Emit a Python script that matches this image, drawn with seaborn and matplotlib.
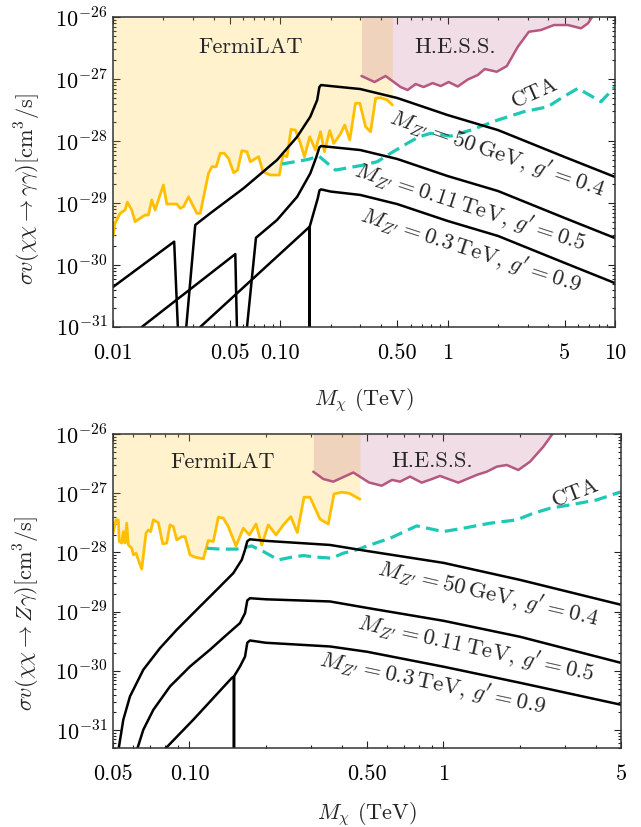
import numpy as np
import pandas as pd
import matplotlib
matplotlib.use("Agg")
import matplotlib.pyplot as plt
import matplotlib.ticker as mticker
import seaborn as sns

# ---------------- chi chi -> gamma gamma (top panel) ----------------
gg_fermi_m = [0.01, 0.01028, 0.01102, 0.0118, 0.01218, 0.01294, 0.01354, 0.0145, 0.01554, 0.01627,
              0.01704, 0.01784, 0.02, 0.02096, 0.02406, 0.0252, 0.02638, 0.02826, 0.0317, 0.0332,
              0.0372, 0.039, 0.0414, 0.0437, 0.0462, 0.049, 0.0526, 0.0555, 0.0589, 0.0631,
              0.0661, 0.0742, 0.0787, 0.0871, 0.0986, 0.1038, 0.1096, 0.1158, 0.123, 0.1318,
              0.1393, 0.1498, 0.162, 0.1737, 0.1834, 0.1973, 0.2085, 0.2265, 0.2427, 0.26,
              0.281, 0.2985, 0.323, 0.346, 0.371, 0.397, 0.435, 0.467]
gg_fermi_sv = [2.86e-30, 4.70e-30, 6.81e-30, 7.71e-30, 1.03e-29, 7.71e-30, 5.0e-30, 5.66e-30, 6.4e-30, 6.4e-30,
               1.12e-29, 7.71e-30, 1.95e-29, 9.64e-30, 9.64e-30, 8.2e-30, 8.73e-30, 1.26e-29, 6.81e-30, 6.81e-30,
               3.01e-29, 3.85e-29, 3.85e-29, 6.33e-29, 6.33e-29, 5.25e-29, 3.08e-29, 3.4e-29, 6.98e-29, 6.73e-29,
               4.64e-29, 5.58e-29, 3.2e-29, 2.83e-29, 2.83e-29, 5.95e-29, 5.58e-29, 1.54e-28, 1.5e-28, 9.17e-29,
               5.58e-29, 1.17e-28, 7.16e-29, 1.41e-28, 6.73e-29, 1.47e-28, 9.17e-29, 1.25e-28, 1.81e-28, 1.04e-28,
               4.06e-28, 4.06e-28, 1.7e-28, 1.41e-28, 4.89e-28, 5.0e-28, 4.59e-28, 3.81e-28]

gg_hess_m = [0.3055, 0.3655, 0.4253, 0.523, 0.576, 0.643, 0.718, 0.813, 0.908, 1.014, 1.148, 1.318,
             1.512, 1.665, 1.965, 2.256, 2.626, 3.055, 3.606, 4.313, 5.23, 6.26, 6.89, 7.38]
gg_hess_sv = [1.12e-27, 8.95e-28, 1.12e-27, 7.43e-28, 6.65e-28, 8.3e-28, 7.43e-28, 8.6e-28, 7.71e-28,
              8.95e-28, 7.57e-28, 9.82e-28, 1.16e-27, 1.45e-27, 1.31e-27, 1.62e-27, 3.32e-27, 5.79e-27,
              6.17e-27, 7.43e-27, 7.43e-27, 6.58e-27, 7.91e-27, 1.05e-26]

gg_cta_m = [0.1024, 0.1477, 0.1696, 0.2135, 0.3153, 0.3793, 0.4557, 0.5737, 0.673, 0.791, 1.042,
            1.373, 1.992, 2.85, 3.97, 4.75, 6.0, 8.25, 10.0]
gg_cta_sv = [4.26e-29, 5.07e-29, 5.73e-29, 3.4e-29, 4.1e-29, 4.64e-29, 6.34e-29, 9.18e-29, 1.17e-28,
             1.33e-28, 1.2e-28, 1.5e-28, 2.18e-28, 2.97e-28, 3.57e-28, 4.89e-28, 7.08e-28, 4.31e-28, 7.52e-28]

gg_mz50_m = [0.01, 0.0232, 0.0244, np.nan, 0.0274, 0.031, 0.0381, 0.0603, 0.0955, 0.126, 0.151,
             0.166, 0.171, 0.175, 0.2, 0.3, 0.5, 1, 2, 5, 10]
gg_mz50_sv = [4.42e-31, 2.38e-30, 1e-31, np.nan, 1e-31, 4.42e-30, 6.82e-30, 1.73e-29, 4.94e-29, 1.17e-28,
              2.47e-28, 4.58e-28, 7.4e-28, 8.0e-28, 7.7e-28, 6.9e-28, 4.94e-28, 2.62e-28, 1.50e-28,
              5.52e-29, 2.63e-29]

gg_mz110_m = [0.01485, 0.0538, 0.055, np.nan, 0.0632, 0.0715, 0.0955, 0.126, 0.151, 0.1643, 0.171,
              0.175, 0.2, 0.3, 0.5, 1, 2, 5, 10]
gg_mz110_sv = [1e-31, 1.5e-30, 1e-31, np.nan, 1e-31, 2.75e-30, 5.32e-30, 1.26e-29, 3.01e-29, 5.58e-29,
               7.9e-29, 8.3e-29, 8.0e-29, 7.16e-29, 5.13e-29, 2.72e-29, 1.56e-29, 5.73e-30, 2.72e-30]

gg_mz300_m = [0.0332, 0.1497, 0.1497, 0.1497, 0.1598, 0.1673, 0.1714, 0.175, 0.2, 0.3, 0.5, 1, 2, 5, 10]
gg_mz300_sv = [1e-31, 4.15e-30, 1e-31, 4.15e-30, 7.7e-30, 1.19e-29, 1.6e-29, 1.66e-29, 1.53e-29,
               1.35e-29, 9.6e-30, 5.13e-30, 2.94e-30, 1.08e-30, 5.1e-31]

# ---------------- chi chi -> Z gamma (bottom panel) ----------------
zg_fermi_m = [0.05, 0.05138, 0.05247, 0.05294, 0.05411, 0.05489, 0.05574, 0.05661, 0.05744, 0.05925,
              0.06011, 0.0616, 0.0629, 0.06486, 0.06745, 0.06887, 0.07038, 0.07207, 0.0754, 0.07848,
              0.08136, 0.08383, 0.08638, 0.08909, 0.09322, 0.09605, 0.1005, 0.1051, 0.1134, 0.1186,
              0.1241, 0.1299, 0.1359, 0.1422, 0.1525, 0.1629, 0.172, 0.1828, 0.1925, 0.2043, 0.2192,
              0.2342, 0.2504, 0.2658, 0.2825, 0.2983, 0.3266, 0.352, 0.3708, 0.3975, 0.4258, 0.4692]
zg_fermi_sv = [2.11e-28, 3.55e-28, 3.55e-28, 1.53e-28, 1.44e-28, 2.25e-28, 1.44e-28, 3.12e-28, 1.34e-28,
               1.18e-28, 9.12e-29, 9.73e-29, 7.5e-29, 5.23e-29, 2.11e-28, 2.4e-28, 2.25e-28, 3.55e-28,
               3.19e-28, 1.40e-28, 1.44e-28, 2.92e-28, 2.73e-28, 1.63e-28, 1.85e-28, 1.85e-28, 9.12e-29,
               8.34e-29, 7.8e-29, 1.59e-28, 1.53e-28, 3.94e-28, 3.79e-28, 2.73e-28, 1.29e-28, 2.57e-28,
               1.98e-28, 3.03e-28, 1.34e-28, 2.92e-28, 1.98e-28, 2.92e-28, 4.03e-28, 2.17e-28, 8.57e-28,
               8.57e-28, 3.65e-28, 3.03e-28, 9.73e-28, 1.04e-27, 1.0e-27, 7.92e-28]

zg_hess_m = [0.3073, 0.3365, 0.3683, 0.4417, 0.509, 0.5713, 0.6273, 0.6745, 0.7384, 0.8209, 0.9013,
             0.9692, 1.144, 1.352, 1.48, 1.621, 1.774, 1.971, 2.192, 2.472, 2.707]
zg_hess_sv = [2.31e-27, 1.74e-27, 1.57e-27, 2.24e-27, 1.52e-27, 1.34e-27, 1.68e-27, 1.57e-27, 1.91e-27,
              1.51e-27, 1.74e-27, 1.96e-27, 1.51e-27, 2.04e-27, 2.31e-27, 2.81e-27, 3.0e-27, 2.47e-27,
              3.41e-27, 6.1e-27, 1.05e-26]

zg_cta_m = [0.1169, 0.1319, 0.1535, 0.1758, 0.1953, 0.2238, 0.2527, 0.2806, 0.317, 0.3631, 0.4034,
            0.4554, 0.5138, 0.6161, 0.7846, 0.9986, 1.197, 1.525, 1.943, 2.259, 2.628, 3.149, 4.013, 5.0]
zg_cta_sv = [1.18e-28, 1.14e-28, 1.14e-28, 1.29e-28, 1.04e-28, 7.5e-29, 8.34e-29, 8.87e-29, 8.34e-29,
             8.02e-29, 9.73e-29, 1.11e-28, 1.34e-28, 1.74e-28, 2.81e-28, 2.25e-28, 2.57e-28, 3.12e-28,
             3.55e-28, 4.6e-28, 5.58e-28, 6.35e-28, 7.71e-28, 1.06e-27]

zg_mz50_m = [0.05247, 0.05489, 0.05832, 0.06582, 0.07656, 0.08909, 0.1068, 0.128, 0.1488, 0.1606,
             0.1655, 0.1689, 0.1731, 0.2, 0.3575, 0.5, 1, 2, 5]
zg_mz50_sv = [4.5e-32, 1.5e-31, 3.72e-31, 1.05e-30, 2.43e-30, 4.95e-30, 1.08e-29, 2.34e-29, 4.48e-29,
              7.5e-29, 1.11e-28, 1.55e-28, 1.67e-28, 1.57e-28, 1.34e-28, 1.06e-28, 6.68e-29, 3.45e-29, 1.31e-29]

zg_mz110_m = [0.06197, 0.06582, 0.07207, 0.08383, 0.1005, 0.1204, 0.1401, 0.1581, 0.1655, 0.1689,
              0.1731, 0.2, 0.3575, 0.5, 1, 2, 5]
zg_mz110_sv = [4.5e-32, 1.02e-31, 2.21e-31, 5.48e-31, 1.19e-30, 2.28e-30, 4.08e-30, 6.43e-30, 9.47e-30,
               1.55e-29, 1.69e-29, 1.62e-29, 1.49e-29, 1.16e-29, 7.03e-30, 3.78e-30, 1.37e-30]

zg_mz300_m = [0.07889, 0.1035, 0.1466, 0.1497, 0.1497, 0.1497, 0.1581, 0.1655, 0.1689, 0.1731, 0.2,
              0.3575, 0.5, 1, 2, 5]
zg_mz300_sv = [4.5e-32, 1.5e-31, 7.58e-31, 8.1e-31, 4.5e-32, 8.1e-31, 1.19e-30, 1.75e-30, 3.0e-30,
               3.27e-30, 2.99e-30, 2.59e-30, 2.11e-30, 1.18e-30, 6.32e-31, 2.69e-31]

# ticks
gg_ticks = [0.01, 0.05, 0.1, 0.5, 1, 5, 10]
gg_ticklabels = ["0.01", "0.05", "0.10", "0.50", "1", "5", "10"]
zg_ticks = [0.05, 0.1, 0.5, 1, 5]
zg_ticklabels = ["0.05", "0.10", "0.50", "1", "5"]

curve_labels = [r"$M_{Z^\prime}=50\,\mathrm{GeV},\, g^\prime=0.4$",
                r"$M_{Z^\prime}=0.11\,\mathrm{TeV},\, g^\prime=0.5$",
                r"$M_{Z^\prime}=0.3\,\mathrm{TeV},\, g^\prime=0.9$"]

FERMI = "#FFBF00"
HESS = "#B5577F"
CTA = "#1EC8B4"

sns.set_style("ticks")
plt.rcParams["font.family"] = "serif"
plt.rcParams["font.serif"] = ["cmr10", "DejaVu Serif"]
plt.rcParams["mathtext.fontset"] = "cm"
plt.rcParams["axes.unicode_minus"] = False
plt.rcParams["axes.formatter.use_mathtext"] = True


def draw_line(ax, m, sv, color, lw, ls="-"):
    df = pd.DataFrame({"m": m, "sv": sv})
    df["seg"] = df["sv"].isna().cumsum()
    df = df.dropna()
    sns.lineplot(data=df, x="m", y="sv", units="seg", estimator=None, sort=False,
                 color=color, lw=lw, linestyle=ls, ax=ax, legend=False)


def style_axes(ax, ticks, labels, xlim, ylim, ylabel, ylab_y, xlab_y):
    ax.set_xscale("log")
    ax.set_yscale("log")
    ax.set_xlim(*xlim)
    ax.set_ylim(*ylim)
    ax.xaxis.set_major_locator(mticker.FixedLocator(ticks))
    ax.xaxis.set_major_formatter(mticker.FixedFormatter(labels))
    ax.xaxis.set_minor_locator(mticker.LogLocator(base=10, subs=np.arange(2, 10), numticks=50))
    ax.xaxis.set_minor_formatter(mticker.NullFormatter())
    ax.yaxis.set_major_locator(mticker.LogLocator(base=10, numticks=20))
    ax.yaxis.set_major_formatter(mticker.FuncFormatter(lambda v, p: r"$10^{%d}$" % round(np.log10(v))))
    ax.yaxis.set_minor_locator(mticker.LogLocator(base=10, subs=np.arange(2, 10), numticks=50))
    ax.yaxis.set_minor_formatter(mticker.NullFormatter())
    ax.tick_params(which="both", direction="in", top=True, right=True, width=0.8, colors="#222222")
    ax.tick_params(which="major", length=5)
    ax.tick_params(which="minor", length=2.5)
    ax.tick_params(axis="x", which="major", pad=12, labelsize=16, labelcolor="black")
    ax.tick_params(axis="y", which="major", pad=4, labelsize=16, labelcolor="black")
    for s in ax.spines.values():
        s.set_linewidth(1.1)
        s.set_color("#333333")
    ax.set_xlabel(r"$M_\chi$ (TeV)", fontsize=16)
    ax.set_ylabel(ylabel, fontsize=16)
    ax.xaxis.set_label_coords(0.5, xlab_y)
    ax.yaxis.set_label_coords(-0.14, ylab_y)


def panel(ax, fermi_m, fermi_sv, hess_m, hess_sv, cta_m, cta_sv, curves):
    ax.fill_between(fermi_m, fermi_sv, 1e-25, color=FERMI, alpha=0.2, lw=0)
    ax.fill_between(hess_m, hess_sv, 1e-25, color=HESS, alpha=0.2, lw=0)
    draw_line(ax, fermi_m, fermi_sv, FERMI, 2.0)
    draw_line(ax, hess_m, hess_sv, HESS, 1.8)
    draw_line(ax, cta_m, cta_sv, CTA, 2.3, ls=(0, (4, 2)))
    for m, sv in curves:
        draw_line(ax, m, sv, "black", 1.8)


fig = plt.figure(figsize=(6.41, 8.27), dpi=100)
ax1 = fig.add_axes([0.1763, 0.6046, 0.7832, 0.3748])
ax2 = fig.add_axes([0.1763, 0.0955, 0.7925, 0.3797])

# top panel
panel(ax1, gg_fermi_m, gg_fermi_sv, gg_hess_m, gg_hess_sv, gg_cta_m, gg_cta_sv,
      [(gg_mz50_m, gg_mz50_sv), (gg_mz110_m, gg_mz110_sv), (gg_mz300_m, gg_mz300_sv)])
style_axes(ax1, gg_ticks, gg_ticklabels, (0.01, 10), (1e-31, 1e-26),
           r"$\sigma v(\chi\chi\rightarrow\gamma\gamma)[\mathrm{cm}^3/\mathrm{s}]$", 0.445, -0.19)
ax1.text(0.066, 3.3e-27, "FermiLAT", fontsize=16, ha="center", va="center")
ax1.text(1.11, 3.3e-27, "H.E.S.S.", fontsize=16, ha="center", va="center")
ax1.text(3.32, 6.0e-28, "CTA", fontsize=16, ha="center", va="center", rotation=24, rotation_mode="anchor")
ax1.text(1.98, 6.3e-29, curve_labels[0], fontsize=16.5, ha="center", va="center", rotation=-19, rotation_mode="anchor")
ax1.text(1.37, 8.7e-30, curve_labels[1], fontsize=16.5, ha="center", va="center", rotation=-18, rotation_mode="anchor")
ax1.text(1.37, 1.75e-30, curve_labels[2], fontsize=16.5, ha="center", va="center", rotation=-18, rotation_mode="anchor")

# bottom panel
panel(ax2, zg_fermi_m, zg_fermi_sv, zg_hess_m, zg_hess_sv, zg_cta_m, zg_cta_sv,
      [(zg_mz50_m, zg_mz50_sv), (zg_mz110_m, zg_mz110_sv), (zg_mz300_m, zg_mz300_sv)])
style_axes(ax2, zg_ticks, zg_ticklabels, (0.05, 5), (5e-32, 1e-26),
           r"$\sigma v(\chi\chi\rightarrow Z\gamma)[\mathrm{cm}^3/\mathrm{s}]$", 0.43, -0.165)
ax2.text(0.135, 3.28e-27, "FermiLAT", fontsize=16, ha="center", va="center")
ax2.text(0.905, 3.41e-27, "H.E.S.S.", fontsize=16, ha="center", va="center")
ax2.text(3.3, 1.02e-27, "CTA", fontsize=16, ha="center", va="center", rotation=21, rotation_mode="anchor")
ax2.text(1.50, 2.06e-29, curve_labels[0], fontsize=16.5, ha="center", va="center", rotation=-13, rotation_mode="anchor")
ax2.text(1.34, 2.43e-30, curve_labels[1], fontsize=16.5, ha="center", va="center", rotation=-12.5, rotation_mode="anchor")
ax2.text(0.905, 6.25e-31, curve_labels[2], fontsize=16.5, ha="center", va="center", rotation=-12, rotation_mode="anchor")

fig.savefig("out.png", dpi=100, facecolor="white")
